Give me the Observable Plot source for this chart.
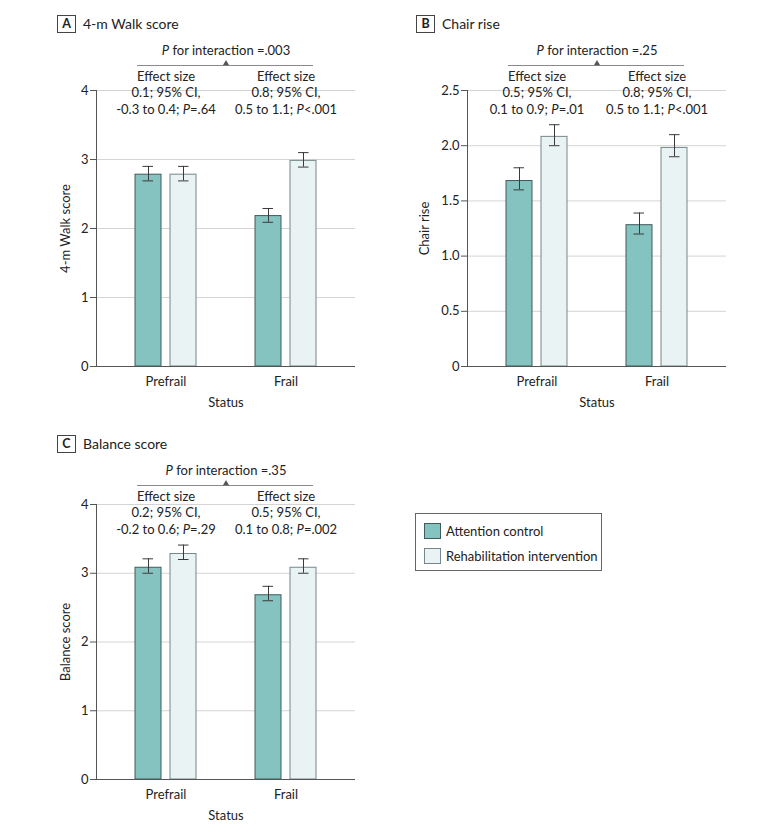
<!DOCTYPE html>
<html><head><meta charset="utf-8">
<script src="https://cdn.jsdelivr.net/npm/d3@7"></script>
<script src="https://cdn.jsdelivr.net/npm/@observablehq/plot@0.6"></script>
<style>
body{margin:0;background:#fff;font-family:Lato,sans-serif;color:#222}
#root{position:relative;width:780px;height:834px;overflow:hidden;background:#fff}
.panel{position:absolute}
.panel svg{overflow:visible}
.title{position:absolute;display:flex;align-items:center;height:18px;font-size:14px;line-height:18px;color:#222;white-space:nowrap}
.badge{box-sizing:border-box;width:19px;height:18px;border:1px solid #444;font-weight:bold;font-size:12.5px;text-align:center;line-height:16px;margin-right:7px}
.legend{position:absolute;box-sizing:border-box;border:1px solid #666;font-size:13px;color:#222}
.legend .row{position:absolute;left:8px;display:flex;align-items:center;white-space:nowrap}
.legend .sw{box-sizing:border-box;width:17px;height:16px;margin-right:5px}
</style></head><body><div id="root"></div>
<script>
// ---- data ----
const status = ["Prefrail", "Frail"];
const groups = ["Attention control", "Rehabilitation intervention"];

const walkAttention = [2.78, 2.18];
const walkAttentionLo = [2.69, 2.09];
const walkAttentionHi = [2.90, 2.29];
const walkRehab = [2.78, 2.98];
const walkRehabLo = [2.69, 2.89];
const walkRehabHi = [2.90, 3.10];

const chairAttention = [1.68, 1.28];
const chairAttentionLo = [1.60, 1.20];
const chairAttentionHi = [1.80, 1.39];
const chairRehab = [2.08, 1.98];
const chairRehabLo = [2.00, 1.90];
const chairRehabHi = [2.19, 2.10];

const balanceAttention = [3.08, 2.68];
const balanceAttentionLo = [3.00, 2.60];
const balanceAttentionHi = [3.21, 2.81];
const balanceRehab = [3.28, 3.08];
const balanceRehabLo = [3.20, 3.00];
const balanceRehabHi = [3.41, 3.21];

const walkTicks = [0, 1, 2, 3, 4];
const walkTickLabels = ["0", "1", "2", "3", "4"];
const chairTicks = [0, 0.5, 1, 1.5, 2, 2.5];
const chairTickLabels = ["0", "0.5", "1.0", "1.5", "2.0", "2.5"];
const balanceTicks = [0, 1, 2, 3, 4];
const balanceTickLabels = ["0", "1", "2", "3", "4"];

const walkEffects = ["Effect size\n0.1; 95% CI,\n-0.3 to 0.4; P=.64", "Effect size\n0.8; 95% CI,\n0.5 to 1.1; P<.001"];
const chairEffects = ["Effect size\n0.5; 95% CI,\n0.1 to 0.9; P=.01", "Effect size\n0.8; 95% CI,\n0.5 to 1.1; P<.001"];
const balanceEffects = ["Effect size\n0.2; 95% CI,\n-0.2 to 0.6; P=.29", "Effect size\n0.5; 95% CI,\n0.1 to 0.8; P=.002"];

const walkInteraction = "P for interaction =.003";
const chairInteraction = "P for interaction =.25";
const balanceInteraction = "P for interaction =.35";

// ---- styles ----
const attFill = "#84c3c0", attStroke = "#3e5c5b";
const rehFill = "#e9f3f4", rehStroke = "#74878a";
const errColor = "#3a3a3a";

function italicP(svg) {
  svg.querySelectorAll("text").forEach(t => {
    const ts = t.querySelectorAll("tspan");
    const targets = ts.length ? [...ts] : [t];
    targets.forEach(el => {
      const s = el.textContent;
      if (!/(^|\s)P(?=[=<\s])/.test(s)) return;
      const esc = s.replace(/&/g, "&amp;").replace(/</g, "&lt;").replace(/>/g, "&gt;");
      el.innerHTML = esc.replace(/(^|\s)P(?=[=&\s])/g, '$1<tspan font-style="italic">P</tspan>');
    });
  });
}

function panel(cfg) {
  const mk = (m, lo, hi) => status.map((s, i) => ({status: s, mean: m[i], lo: lo[i], hi: hi[i]}));
  const att = mk(cfg.att, cfg.attLo, cfg.attHi);
  const reh = mk(cfg.reh, cfg.rehLo, cfg.rehHi);
  const effects = status.map((s, i) => ({status: s, text: cfg.effects[i]}));
  const top = cfg.ticks[cfg.ticks.length - 1];
  const sh = cfg.shift;
  const bw = 35; // inset that leaves one bar in each half of the band
  const plot = Plot.plot({
    width: 380,
    height: cfg.height,
    marginLeft: 96,
    marginRight: 25,
    marginTop: 90,
    marginBottom: 44,
    style: {fontFamily: "Lato, sans-serif", fontSize: "13px", color: "#222", background: "transparent", overflow: "visible"},
    x: {type: "band", domain: status, paddingInner: 0.49, paddingOuter: 0.32},
    y: {domain: [0, top]},
    marks: [
      Plot.gridY({ticks: cfg.ticks, stroke: "#d4d4d4", strokeOpacity: 1}),
      Plot.barY(att, {x: "status", y: "mean", fill: attFill, stroke: attStroke, insetRight: bw}),
      Plot.barY(reh, {x: "status", y: "mean", fill: rehFill, stroke: rehStroke, insetLeft: bw}),
      Plot.ruleY([0], {stroke: "#555"}),
      Plot.frame({anchor: "left", stroke: "#555"}),
      Plot.ruleX(att, {x: "status", y1: "lo", y2: "hi", dx: -17.5, stroke: errColor}),
      Plot.tickY(att, {x: "status", y: "lo", insetLeft: 7.5, insetRight: 43, stroke: errColor}),
      Plot.tickY(att, {x: "status", y: "hi", insetLeft: 7.5, insetRight: 43, stroke: errColor}),
      Plot.ruleX(reh, {x: "status", y1: "lo", y2: "hi", dx: 17.5, stroke: errColor}),
      Plot.tickY(reh, {x: "status", y: "lo", insetLeft: 43, insetRight: 7.5, stroke: errColor}),
      Plot.tickY(reh, {x: "status", y: "hi", insetLeft: 43, insetRight: 7.5, stroke: errColor}),
      Plot.axisY({ticks: cfg.ticks, tickFormat: d => cfg.tickLabels[cfg.ticks.indexOf(d)], tickSize: 6, tickPadding: 2, stroke: "#555", fill: "#222",
        label: cfg.yLabel, labelAnchor: "center", labelArrow: "none", labelOffset: cfg.labelOffset}),
      Plot.axisX({tickSize: 0, tickPadding: 10, fill: "#222", label: "Status", labelAnchor: "center", labelArrow: "none", labelOffset: 40}),
      Plot.text(effects, {x: "status", text: "text", frameAnchor: "top", lineAnchor: "bottom", lineHeight: 1.25, dy: 23 + sh, fill: "#222"}),
      Plot.ruleY([{y: top, a: status[0], b: status[1]}], {y: "y", x1: "a", x2: "b", dy: -25 + sh, insetLeft: 2, insetRight: 3, stroke: "#8a8a8a"}),
      Plot.dot([{}], {x: null, y: null, frameAnchor: "top", symbol: "triangle", r: 2.3, fill: "#555", stroke: null, dy: -27 + sh}),
      Plot.text([cfg.interaction], {x: null, y: null, text: d => d, frameAnchor: "top", lineAnchor: "bottom", dy: -35.5 + sh, fill: "#222"})
    ]
  });
  italicP(plot);
  return plot;
}

const root = document.getElementById("root");

function place(el, left, top) {
  const d = document.createElement("div");
  d.className = "panel";
  d.style.left = left + "px";
  d.style.top = top + "px";
  d.appendChild(el);
  root.appendChild(d);
}
function title(letter, text, left, top) {
  const d = document.createElement("div");
  d.className = "title";
  d.style.left = left + "px";
  d.style.top = top + "px";
  const b = document.createElement("div");
  b.className = "badge";
  b.textContent = letter;
  const s = document.createElement("span");
  s.textContent = text;
  d.appendChild(b); d.appendChild(s);
  root.appendChild(d);
}

place(panel({height: 410, shift: 0, labelOffset: 36, ticks: walkTicks, tickLabels: walkTickLabels, yLabel: "4-m Walk score",
  att: walkAttention, attLo: walkAttentionLo, attHi: walkAttentionHi,
  reh: walkRehab, rehLo: walkRehabLo, rehHi: walkRehabHi,
  effects: walkEffects, interaction: walkInteraction}), 0, 0);
place(panel({height: 410, shift: 0, labelOffset: 48, ticks: chairTicks, tickLabels: chairTickLabels, yLabel: "Chair rise",
  att: chairAttention, attLo: chairAttentionLo, attHi: chairAttentionHi,
  reh: chairRehab, rehLo: chairRehabLo, rehHi: chairRehabHi,
  effects: chairEffects, interaction: chairInteraction}), 371, 0);
place(panel({height: 409, shift: 6, labelOffset: 36, ticks: balanceTicks, tickLabels: balanceTickLabels, yLabel: "Balance score",
  att: balanceAttention, attLo: balanceAttentionLo, attHi: balanceAttentionHi,
  reh: balanceRehab, rehLo: balanceRehabLo, rehHi: balanceRehabHi,
  effects: balanceEffects, interaction: balanceInteraction}), 0, 414);

title("A", "4-m Walk score", 57, 15);
title("B", "Chair rise", 416, 15);
title("C", "Balance score", 57, 435);

// legend
const lg = document.createElement("div");
lg.className = "legend";
Object.assign(lg.style, {left: "415px", top: "513px", width: "187px", height: "58px"});
[[groups[0], attFill, attStroke, 9], [groups[1], rehFill, rehStroke, 34]].forEach(([name, fill, stroke, top]) => {
  const r = document.createElement("div");
  r.className = "row";
  r.style.top = top + "px";
  const sw = document.createElement("div");
  sw.className = "sw";
  sw.style.background = fill;
  sw.style.border = "1px solid " + stroke;
  const t = document.createElement("span");
  t.textContent = name;
  r.appendChild(sw); r.appendChild(t);
  lg.appendChild(r);
});
root.appendChild(lg);
</script></body></html>
